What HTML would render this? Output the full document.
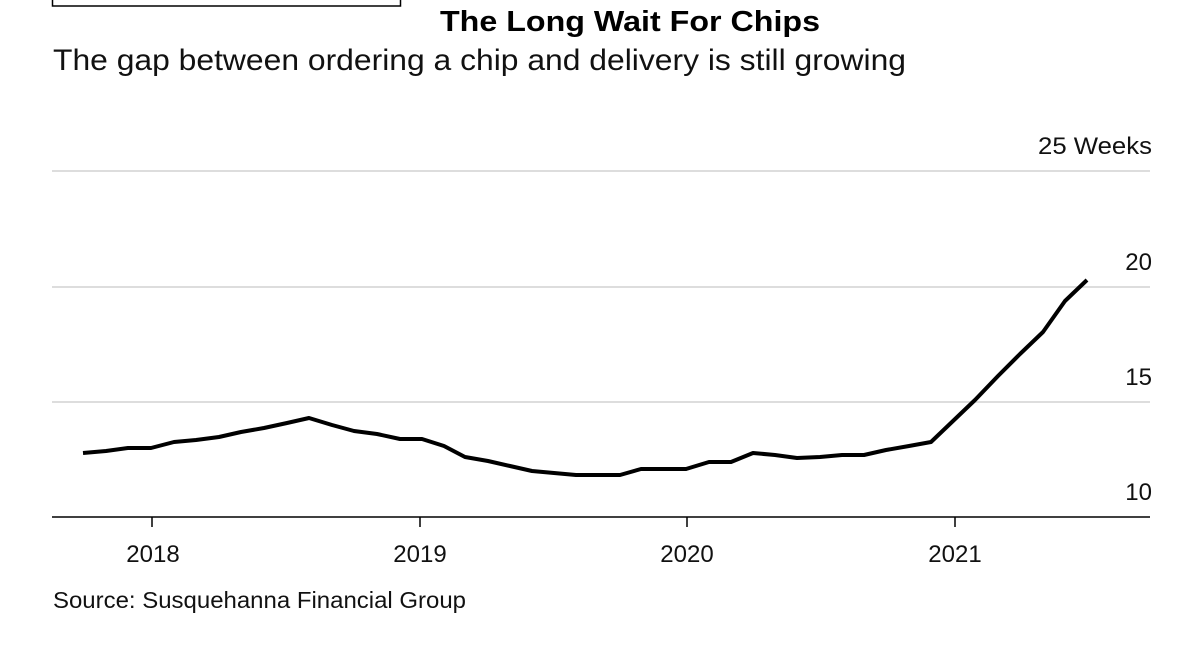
<!DOCTYPE html>
<html><head><style>
body{margin:0;background:#fff;width:1204px;height:640px;overflow:hidden;font-family:"Liberation Sans",Arial,sans-serif;}
</style></head><body>
<svg width="1204" height="640" xmlns="http://www.w3.org/2000/svg" font-family="Liberation Sans, Arial, sans-serif">
<rect x="52.5" y="-5" width="348" height="11" fill="none" stroke="#000" stroke-width="1.5"/>
<text x="440" y="31" font-size="29" font-weight="bold" fill="#000" textLength="380" lengthAdjust="spacingAndGlyphs">The Long Wait For Chips</text>
<text x="53" y="70" font-size="30" fill="#111" textLength="853" lengthAdjust="spacingAndGlyphs">The gap between ordering a chip and delivery is still growing</text>
<g stroke="#ddd" stroke-width="2">
<line x1="52" y1="171" x2="1150" y2="171"/>
<line x1="52" y1="287" x2="1150" y2="287"/>
<line x1="52" y1="402" x2="1150" y2="402"/>
</g>
<g font-size="24" fill="#111" text-anchor="end">
<text x="1152" y="154" textLength="114" lengthAdjust="spacingAndGlyphs">25 Weeks</text>
<text x="1152" y="270">20</text>
<text x="1152" y="385">15</text>
<text x="1152" y="500">10</text>
</g>
<line x1="52" y1="517" x2="1150" y2="517" stroke="#000" stroke-width="1.5"/>
<g stroke="#000" stroke-width="1.5">
<line x1="152" y1="517" x2="152" y2="527"/>
<line x1="420" y1="517" x2="420" y2="527"/>
<line x1="687" y1="517" x2="687" y2="527"/>
<line x1="955" y1="517" x2="955" y2="527"/>
</g>
<g font-size="24" fill="#111" text-anchor="middle">
<text x="153" y="562">2018</text>
<text x="420" y="562">2019</text>
<text x="687" y="562">2020</text>
<text x="955" y="562">2021</text>
</g>
<polyline fill="none" stroke="#000" stroke-width="4" stroke-linejoin="round" points="83,453 106,451 128,448 151,448 174,442 196,440 219,437 241,432 264,428 287,423 309,418 332,425 354,431 377,434 400,439 422,439 444,446 465,457 488,461 510,466 532,471 554,473 576,475 598,475 620,475 641,469 664,469 686,469 709,462 731,462 753,453 775,455 797,458 820,457 842,455 864,455 886,450 909,446 931,442 953,421 975,400 998,376 1020,354 1043,332 1065,301 1087,280"/>
<text x="53" y="608" font-size="23" fill="#111" textLength="413" lengthAdjust="spacingAndGlyphs">Source: Susquehanna Financial Group</text>
</svg>
</body></html>
